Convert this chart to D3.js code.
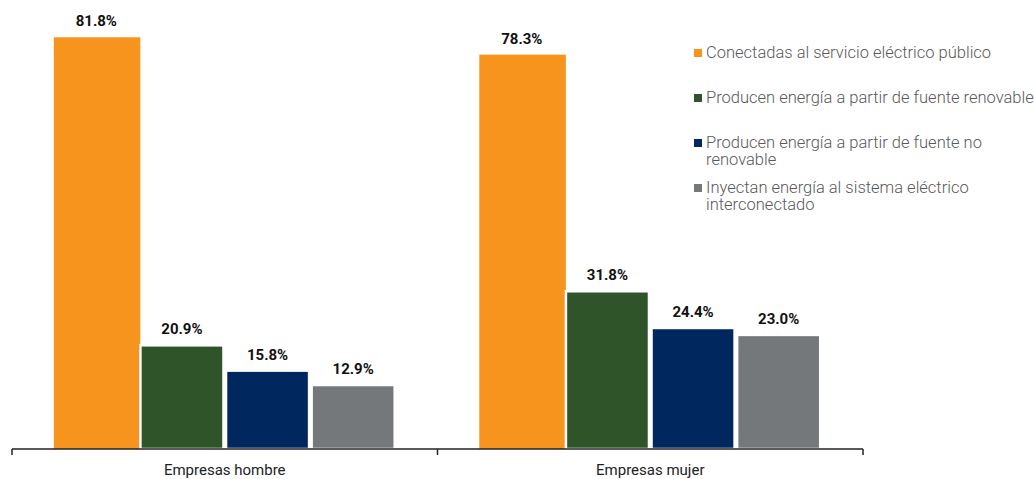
<!DOCTYPE html>
<html>
<head>
<meta charset="utf-8">
<script src="https://cdn.jsdelivr.net/npm/d3@7"></script>
<style>
  html, body { margin: 0; padding: 0; background: #fff; }
  svg { display: block; font-family: Roboto, "Noto Sans", sans-serif; }
</style>
</head>
<body>
<svg id="chart" width="1034" height="479"></svg>
<script>
const categories = ["Empresas hombre", "Empresas mujer"];
const seriesNames = [
  "Conectadas al servicio eléctrico público",
  "Producen energía a partir de fuente renovable",
  "Producen energía a partir de fuente no renovable",
  "Inyectan energía al sistema eléctrico interconectado"
];
const legendLines = [
  ["Conectadas al servicio eléctrico público"],
  ["Producen energía a partir de fuente renovable"],
  ["Producen energía a partir de fuente no", "renovable"],
  ["Inyectan energía al sistema eléctrico", "interconectado"]
];
const conectadas = [81.8, 78.3];
const renovable = [20.9, 31.8];
const noRenovable = [15.8, 24.4];
const inyectan = [12.9, 23.0];
const seriesValues = [conectadas, renovable, noRenovable, inyectan];
const colors = ["#F7941D", "#2F5429", "#00285E", "#75787B"];

const svg = d3.select("#chart");
const baseY = 449;
const x0 = d3.scaleBand().domain(categories).range([12, 863]).padding(0);
const x1 = d3.scaleBand().domain(seriesNames).range([0, x0.bandwidth()])
  .paddingInner(0.03).paddingOuter(0.5);
const y = d3.scaleLinear().domain([0, 100]).range([baseY, baseY - 496]);

const rows = [];
categories.forEach((c, ci) => {
  seriesNames.forEach((s, si) => {
    rows.push({cat: c, ser: s, si, v: seriesValues[si][ci]});
  });
});

const g = svg.append("g");
// first series drawn slightly enlarged (as in the reference), others with a white outline
const orangeLeft = 1, orangeRight = 2.5, orangeLift = 6;
g.selectAll("rect.bar").data(rows).join("rect")
  .attr("class", "bar")
  .attr("x", d => x0(d.cat) + x1(d.ser) - (d.si === 0 ? orangeLeft : 0))
  .attr("width", d => x1.bandwidth() + (d.si === 0 ? orangeLeft + orangeRight : 0))
  .attr("y", d => y(d.v) - (d.si === 0 ? orangeLift : 0))
  .attr("height", d => baseY - y(d.v) + (d.si === 0 ? orangeLift : 0))
  .attr("fill", d => colors[d.si])
  .attr("stroke", d => d.si === 0 ? "none" : "#fff")
  .attr("stroke-width", 2.5);

g.selectAll("text.val").data(rows).join("text")
  .attr("class", "val")
  .attr("x", d => x0(d.cat) + x1(d.ser) + x1.bandwidth() / 2)
  .attr("y", d => y(d.v) - (d.si === 0 ? orangeLift : 0) - 11)
  .attr("text-anchor", "middle")
  .attr("font-size", 15)
  .attr("font-weight", "bold")
  .attr("fill", "#111")
  .text(d => d.v.toFixed(1) + "%");

// axis
const axis = d3.axisBottom(x0).tickSize(0).tickPadding(15);
const ax = svg.append("g").attr("transform", `translate(0,${baseY})`).call(axis);
ax.select(".domain").attr("stroke", "#222").attr("stroke-width", 1.5)
  .attr("d", `M12,0H863`);
ax.selectAll(".tick text").attr("font-size", 15).attr("fill", "#222")
  .attr("font-family", "Roboto, sans-serif");
const bounds = [x0.range()[0], x0(categories[1]), x0.range()[1]];
ax.selectAll("line.sep").data(bounds).join("line").attr("class", "sep")
  .attr("x1", d => d).attr("x2", d => d).attr("y1", 0).attr("y2", 6)
  .attr("stroke", "#222").attr("stroke-width", 1.5);

// legend
const lg = svg.append("g").attr("transform", "translate(694,0)");
const itemTops = [58, 103, 148, 193];
legendLines.forEach((lines, i) => {
  const it = lg.append("g").attr("transform", `translate(0,${itemTops[i]})`);
  it.append("rect").attr("x", 0).attr("y", -9).attr("width", 8).attr("height", 8)
    .attr("fill", colors[i]);
  const t = it.append("text").attr("x", 12).attr("y", 0)
    .attr("font-size", 16.5).attr("font-weight", 300).attr("fill", "#595959");
  lines.forEach((ln, li) => {
    t.append("tspan").attr("x", 12).attr("dy", li === 0 ? 0 : 17).text(ln);
  });
});
</script>
</body>
</html>
